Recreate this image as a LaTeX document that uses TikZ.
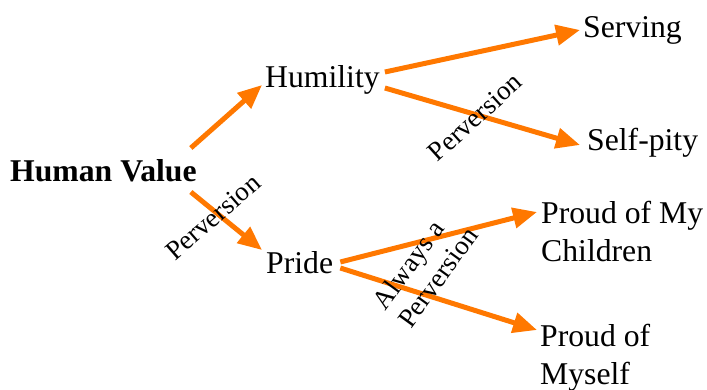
\documentclass[tikz,border=0pt]{standalone}
\usepackage{fontspec}
\setmainfont{Liberation Serif}
\usetikzlibrary{arrows.meta}
\definecolor{arrorange}{RGB}{255,120,0}
\tikzset{
  lbl/.style={inner sep=0pt, font=\fontsize{31.7}{38}\selectfont},
  elbl/.style={inner sep=0pt, font=\fontsize{27}{31}\selectfont},
  arr/.style={draw=arrorange, line width=5pt, -{Triangle[length=24pt,width=20pt]}}
}
\begin{document}
\begin{tikzpicture}[x=1pt,y=-1pt]
\useasboundingbox (0,0) rectangle (707,389);
\node[lbl, anchor=base west, font=\fontsize{31.7}{38}\selectfont\bfseries] (hv) at (10,181) {Human Value};
\node[lbl, anchor=base west] (hum) at (265,87) {Humility};
\node[lbl, anchor=base west] (srv) at (583,37) {Serving};
\node[lbl, anchor=base west] (sp) at (587,150) {Self-pity};
\node[lbl, anchor=base west] (pr) at (266,273) {Pride};
\node[lbl, anchor=north west, align=left] (ch) at (541,200.5) {Proud of My\\Children};
\node[lbl, anchor=north west, align=left] (my) at (540,323.5) {Proud of\\Myself};

\draw[arr] ([shift={(-6,-33)}]hv.base east) -- ([shift={(-3,-2)}]hum.base west);
\draw[arr] ([shift={(-6,11)}]hv.base east) -- ([shift={(-4,-23)}]pr.base west);
\draw[arr] ([shift={(5,-15)}]hum.base east) -- ([shift={(-3,-7)}]srv.base west);
\draw[arr] ([shift={(5,1)}]hum.base east) -- ([shift={(-7,-5)}]sp.base west);
\draw[arr] ([shift={(7,-11)}]pr.base east) -- ([shift={(-4,11.5)}]ch.north west);
\draw[arr] ([shift={(7,-5)}]pr.base east) -- ([shift={(-3,6.5)}]my.north west);

\node[elbl, rotate=41] (l1) at (213,217) {Perversion};
\node[elbl, rotate=42] (l2) at (475,117) {Perversion};
\node[elbl, rotate=54, align=left] (l3) at (425,268) {Always a\\Perversion};
\end{tikzpicture}
\end{document}
